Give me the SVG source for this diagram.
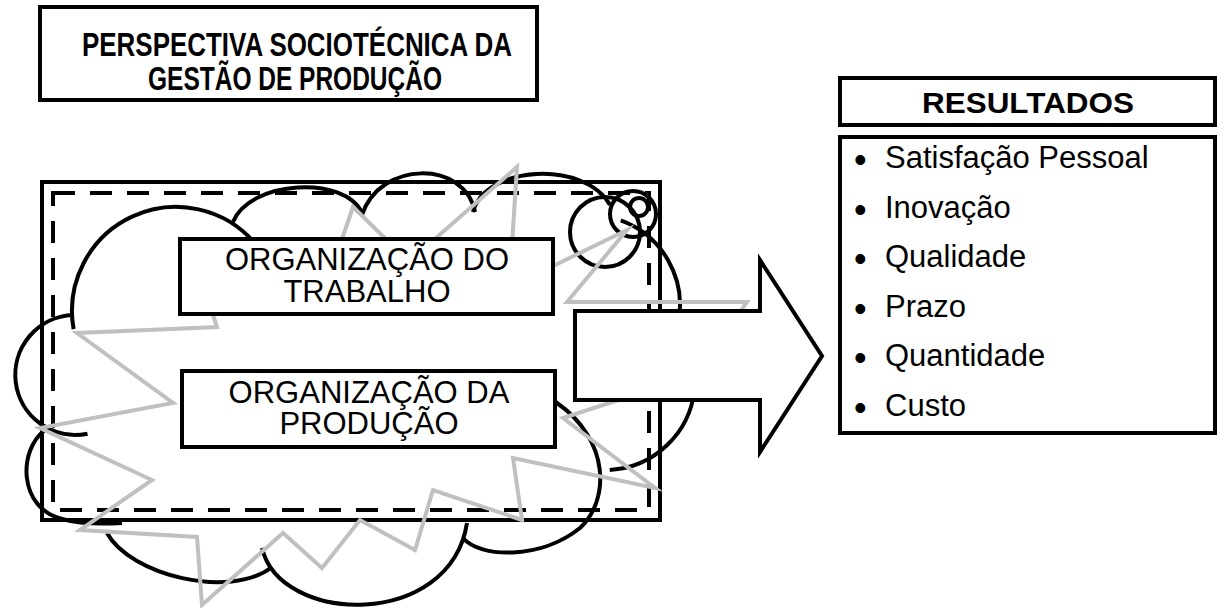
<svg xmlns="http://www.w3.org/2000/svg" width="1224" height="608" viewBox="0 0 1224 608">
<style>
.box{fill:#fff;stroke:#000;stroke-width:4}
.frame{fill:none;stroke:#000;stroke-width:4}
.dash{fill:none;stroke:#000;stroke-width:4;stroke-dasharray:22 15}
.arc{fill:none;stroke:#000;stroke-width:4}
.zig{fill:none;stroke:#c0c0c0;stroke-width:4;stroke-linejoin:miter;stroke-miterlimit:10}
.t{font-family:"Liberation Sans",Arial,sans-serif;fill:#000}
.h{font-weight:bold;font-size:33px}
.o{font-size:31px}
.l{font-size:31px}
.b{font-size:36px}
</style>
<g id="title">
<rect class="box" x="40" y="7" width="497" height="93"/>
<text class="t h" x="297" y="56" text-anchor="middle" textLength="430" lengthAdjust="spacingAndGlyphs">PERSPECTIVA SOCIOTÉCNICA DA</text>
<text class="t h" x="295" y="90" text-anchor="middle" textLength="294" lengthAdjust="spacingAndGlyphs">GESTÃO DE PRODUÇÃO</text>
</g>
<g id="frame">
<rect class="frame" x="42" y="182" width="618" height="338"/>
<rect class="dash" x="53" y="193" width="596" height="317"/>
</g>
<g id="cloud">
<path class="arc" d="M73.6,329.1 A104,104 0 0 1 255.7,244.1"/>
<path class="arc" d="M72.9,315 A60,60 0 1 0 87.5,433.7"/>
<path class="arc" d="M45,430 C18,450 18,508 62,519 C80,524 105,524 122,523"/>
<path class="arc" d="M107,533 C130,575 230,600 272,567"/>
<path class="arc" d="M262,548 C280,625 450,630 467,523"/>
<path class="arc" d="M463,538 C480,558 540,560 580,528 C610,500 610,440 557,403 L548,397"/>
<path class="arc" d="M694.5,389.4 A90,90 0 0 1 609.7,469.9"/>
<path class="arc" d="M620.8,220.4 A90,90 0 0 1 678.6,320.6"/>
<path class="arc" d="M233,222 C250,180 345,175 362,213"/>
<path class="arc" d="M362,215 C380,160 465,160 475,212"/>
<path class="arc" d="M473,212 C485,165 585,160 610,205"/>
<circle class="arc" cx="605" cy="232" r="35"/>
<circle class="arc" cx="633" cy="214" r="23"/>
<circle class="arc" cx="639" cy="207" r="9"/>
</g>
<g id="burst">
<polygon class="zig" points="77,333 217,327 213,315 340,245 353,207 392,245 428,245 517,167 512,245 553,266 627,230 567,302 747,302 700,370 640,393 563,418 655,488 513,458 522,520 433,490 415,550 360,520 322,568 283,533 202,605 197,537 80,530 152,480 40,428 173,403"/>
</g>
<g id="org-trabalho">
<rect class="box" x="180" y="239" width="373" height="75"/>
<text class="t o" x="367" y="270" text-anchor="middle">ORGANIZAÇÃO DO</text>
<text class="t o" x="367" y="302" text-anchor="middle">TRABALHO</text>
</g>
<g id="org-producao">
<rect class="box" x="182" y="371" width="373" height="76"/>
<text class="t o" x="369" y="403" text-anchor="middle">ORGANIZAÇÃO DA</text>
<text class="t o" x="369" y="434" text-anchor="middle">PRODUÇÃO</text>
</g>
<g id="connectors">
<polygon class="box" points="575,311 760,311 760,260 822,356 760,452 760,400 575,400"/>
</g>
<g id="resultados">
<rect class="box" x="840" y="78" width="375" height="47"/>
<text class="t" x="1028" y="113" text-anchor="middle" font-weight="bold" font-size="30" textLength="212" lengthAdjust="spacingAndGlyphs">RESULTADOS</text>
</g>
<g id="lista">
<rect class="box" x="840" y="137" width="375" height="296"/>
<g class="t">
<text class="b" x="854" y="172">•</text><text class="l" x="885" y="168">Satisfação Pessoal</text>
<text class="b" x="854" y="221.5">•</text><text class="l" x="885" y="217.5">Inovação</text>
<text class="b" x="854" y="271">•</text><text class="l" x="885" y="267">Qualidade</text>
<text class="b" x="854" y="320.5">•</text><text class="l" x="885" y="316.5">Prazo</text>
<text class="b" x="854" y="370">•</text><text class="l" x="885" y="366">Quantidade</text>
<text class="b" x="854" y="419.5">•</text><text class="l" x="885" y="415.5">Custo</text>
</g>
</g>
</svg>
